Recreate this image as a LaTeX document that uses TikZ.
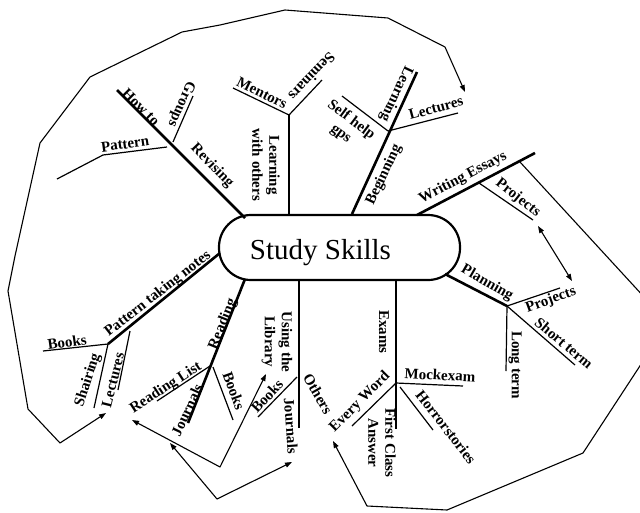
\documentclass[tikz,border=0pt]{standalone}
\usepackage{fontspec}
\setmainfont{Liberation Serif}
\usetikzlibrary{arrows.meta}
\begin{document}
\begin{tikzpicture}[x=1pt,y=-1pt,
  trunk/.style={line width=2.6pt},
  twig/.style={line width=1.2pt},
  rim/.style={line width=1.1pt, line join=round},
  tip/.style={-{Triangle[length=7pt,width=5pt]}},
  twotips/.style={{Triangle[length=7pt,width=5pt]}-{Triangle[length=7pt,width=5pt]}},
  lbl/.style={font=\bfseries\fontsize{15}{15}\selectfont, inner sep=0pt},
  lbltwo/.style={inner sep=0pt, align=center, font=\bfseries\fontsize{15}{17}\selectfont}]
\useasboundingbox (0,0) rectangle (640,512);
\clip (0,0) rectangle (640,512);
\fill[white] (0,0) rectangle (640,512);

% hub
\node[draw, line width=2.2pt, rounded corners=32pt, minimum width=241pt, minimum height=65pt, inner sep=0pt] (hub) at (339.5,247.5) {};
\node[font=\fontsize{29}{29}\selectfont, anchor=base] (title) at (320.5,259) {Study Skills};

% coordinates
\coordinate (a1) at (245,218); \coordinate (b1) at (117,90);
\coordinate (j1) at (173,142); \coordinate (g1) at (193,96);
\coordinate (p0) at (167,147); \coordinate (p1) at (103,155); \coordinate (p2) at (57,179);

\coordinate (a2) at (289,215); \coordinate (j2) at (289,115);
\coordinate (m2) at (233,88); \coordinate (s2) at (322,80);

\coordinate (a3) at (352,214); \coordinate (b3) at (417,72); \coordinate (j3) at (388,131);
\coordinate (l3) at (458,113); \coordinate (h3) at (342,96);

\coordinate (a4) at (417,215); \coordinate (b4) at (535,153);
\coordinate (q1) at (479,183); \coordinate (q2) at (533,220);

\coordinate (a5) at (445,274); \coordinate (j5) at (507,306);
\coordinate (r5) at (560,288); \coordinate (t5) at (575,365); \coordinate (u5) at (506,371);

\coordinate (a6) at (396,281); \coordinate (b6) at (396,429); \coordinate (j6) at (396,383);
\coordinate (k6) at (463,386); \coordinate (h6) at (400,387); \coordinate (e6) at (433,430);
\coordinate (w6) at (352,426);

\coordinate (a7) at (299,281); \coordinate (b7) at (299,428);
\coordinate (c7) at (297,377); \coordinate (d7) at (258,417);

\coordinate (a8) at (245,279); \coordinate (b8) at (188,423); \coordinate (j8) at (210,366);
\coordinate (c8) at (157,401); \coordinate (d8) at (213,367); \coordinate (e8) at (233,420);

\coordinate (a9) at (220,253); \coordinate (b9) at (108,344);
\coordinate (c9) at (43,351); \coordinate (d9) at (94,408);
\coordinate (e9) at (130,331); \coordinate (f9) at (118,390);

% trunks
\draw[trunk] (a1) -- (b1);
\draw[trunk] (a2) -- (j2);
\draw[trunk] (a3) -- (b3);
\draw[trunk] (a4) -- (b4);
\draw[trunk] (a5) -- (j5);
\draw[trunk] (a6) -- (b6);
\draw[trunk] (a7) -- (b7);
\draw[trunk] (a8) -- (b8);
\draw[trunk] (a9) -- (b9);

% twigs
\draw[twig] (j1) -- (g1);
\draw[twig] (p0) -- (p1) -- (p2);
\draw[twig] (j2) -- (m2);
\draw[twig] (j2) -- (s2);
\draw[twig] (j3) -- (l3);
\draw[twig] (j3) -- (h3);
\draw[twig] (q1) -- (q2);
\draw[twig] (j5) -- (r5);
\draw[twig] (j5) -- (t5);
\draw[twig] (j5) -- (u5);
\draw[twig] (j6) -- (k6);
\draw[twig] (h6) -- (e6);
\draw[twig] (j6) -- (w6);
\draw[twig] (c7) -- (d7);
\draw[twig] (j8) -- (c8);
\draw[twig] (d8) -- (e8);
\draw[twig] (b9) -- (c9);
\draw[twig] (b9) -- (d9);
\draw[twig] (e9) -- (f9);

% labels
\node[lbl, rotate=-45] (howto) at (141,107) {How to};
\node[lbl, rotate=-46] (revising) at (212,166) {Revising};
\node[lbl, rotate=-114] (groups) at (181,104) {Groups};
\node[lbl, rotate=8] (pattern) at (125,144) {Pattern};
\node[lbl, rotate=-26] (mentors) at (262,93) {Mentors};
\node[lbl, rotate=-134] (seminars) at (312,77) {Seminars};
\node[lbltwo, rotate=-90] (learnothers) at (266,165) {Learning\\with others};
\node[lbl, rotate=65] (beginning) at (384,175) {Beginning};
\node[lbl, rotate=-115] (learning) at (396,94) {Learning};
\node[lbltwo, rotate=-37] (selfhelp) at (346,127) {Self help\\gps};
\node[lbl, rotate=15] (lectures) at (436,108) {Lectures};
\node[lbl, rotate=28] (essays) at (463,178) {Writing Essays};
\node[lbl, rotate=-38] (projectsa) at (518,198) {Projects};
\node[lbl, rotate=-30] (planning) at (487,283) {Planning};
\node[lbl, rotate=20] (projectsb) at (551,300) {Projects};
\node[lbl, rotate=-40] (shortterm) at (564,343) {Short term};
\node[lbl, rotate=-90] (longterm) at (515,365) {Long term};
\node[lbl, rotate=-90] (exams) at (384,332) {Exams};
\node[lbl, rotate=-3] (mockexam) at (440,375) {Mockexam};
\node[lbl, rotate=-52] (horror) at (446,427) {Horrorstories};
\node[lbltwo, rotate=-90] (firstclass) at (382,443) {First Class\\Answer};
\node[lbl, rotate=45] (everyword) at (360,402) {Every Word};
\node[lbl, rotate=-60] (others) at (318,394) {Others};
\node[lbltwo, rotate=-90] (library) at (277,342) {Using the\\Library};
\node[lbl, rotate=47] (booksc) at (267,396) {Books};
\node[lbl, rotate=-86] (journalsb) at (291,426) {Journals};
\node[lbl, rotate=68] (reading) at (223,324) {Reading};
\node[lbl, rotate=33] (readinglist) at (166,388) {Reading List};
\node[lbl, rotate=65] (journalsa) at (187,410) {Journals};
\node[lbl, rotate=-70] (booksb) at (234,391) {Books};
\node[lbl, rotate=38] (patternnotes) at (158,294) {Pattern taking notes};
\node[lbl, rotate=8] (booksa) at (67,342) {Books};
\node[lbl, rotate=72] (shairing) at (88,380) {Shairing};
\node[lbl, rotate=76] (lecturesb) at (113,380) {Lectures};

% rim arrows
\coordinate (r1) at (106,413);
\coordinate (r2) at (465,92);
\draw[rim, twotips] (r1) -- (60,443) -- (28,409) -- (8,291) -- (15,256) -- (40,143)
   -- (90,77) -- (182,32) -- (220,25) -- (285,10) -- (388,18) -- (445,47) -- (r2);

\coordinate (s1) at (520,162);
\coordinate (s2e) at (333,441);
\draw[rim, tip] (s1) -- (668,323) -- (583,453) -- (447,510) -- (367,506) -- (s2e);

\coordinate (pa) at (538,226); \coordinate (pb) at (572,281);
\draw[rim, twotips] (pa) -- (pb);

\coordinate (v1a) at (132,420); \coordinate (v1) at (220,467); \coordinate (v1b) at (266,374);
\draw[rim, twotips] (v1a) -- (v1) -- (v1b);

\coordinate (v2a) at (170,443); \coordinate (v2) at (217,499); \coordinate (v2b) at (292,462);
\draw[rim, twotips] (v2a) -- (v2) -- (v2b);
\end{tikzpicture}
\end{document}
